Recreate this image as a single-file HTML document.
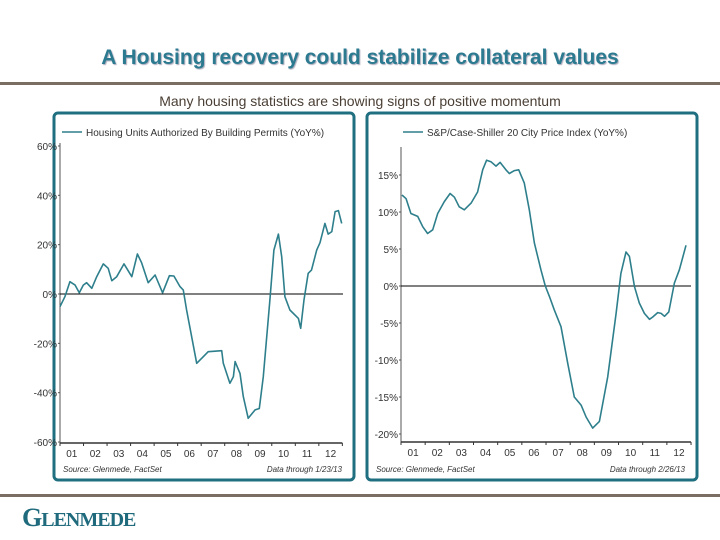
<!DOCTYPE html>
<html><head><meta charset="utf-8"><style>
body{margin:0;background:#fff;}
#root{position:relative;width:720px;height:540px;overflow:hidden;font-family:"Liberation Sans",sans-serif;}
.title{position:absolute;left:0;top:46px;width:720px;text-align:center;font-size:21px;font-weight:bold;color:#2b7a90;text-shadow:1px 1px 1px #aab;}
.sub{position:absolute;left:0;top:93px;width:720px;text-align:center;font-size:14px;color:#4a3f35;}
.rule{position:absolute;left:0;width:720px;height:3px;background:#7a6e62;}
.logo{position:absolute;left:22px;top:503px;font-family:"Liberation Serif",serif;font-weight:bold;font-size:26px;color:#1f6a7c;letter-spacing:-1px;}
.logo small{font-size:20px;}
</style></head><body>
<div id="root">
<div class="title">A Housing recovery could stabilize collateral values</div>
<div class="rule" style="top:82px"></div>
<div class="sub">Many housing statistics are showing signs of positive momentum</div>
<div class="rule" style="top:494px"></div>
<div class="logo">G<small>LENMEDE</small></div>
<svg id="chart" width="720" height="540" style="position:absolute;left:0;top:0"></svg>
</div>
<script>
const yearLabels=["01","02","03","04","05","06","07","08","09","10","11","12"];
const permitYears=[2001.0,2001.21,2001.42,2001.64,2001.82,2001.99,2002.13,2002.35,2002.56,2002.84,2003.05,2003.2,2003.41,2003.72,2004.05,2004.29,2004.47,2004.75,2005.04,2005.36,2005.65,2005.84,2006.1,2006.24,2006.38,2006.81,2007.09,2007.3,2007.87,2007.94,2008.22,2008.37,2008.44,2008.65,2008.79,2009.0,2009.29,2009.47,2009.64,2009.92,2010.09,2010.28,2010.42,2010.56,2010.77,2011.13,2011.23,2011.37,2011.55,2011.69,2011.91,2012.05,2012.26,2012.4,2012.55,2012.69,2012.83,2012.97];
const permitValues=[-5.1,-1.1,5.0,3.6,0.5,3.6,4.6,2.3,7.0,12.2,10.4,5.4,7.0,12.2,7.0,16.2,12.7,4.6,7.7,0.5,7.4,7.3,3.0,1.6,-6.5,-28.1,-25.4,-23.4,-23.0,-28.1,-36.2,-33.5,-27.4,-32.2,-41.6,-50.4,-47.0,-46.4,-33.5,-2.4,17.8,24.3,15.1,-1.1,-6.5,-9.9,-13.9,-2.4,8.4,9.7,17.8,20.8,28.6,24.3,25.3,33.4,33.8,28.6];
const permitTicks=[60,40,20,0,-20,-40,-60];
const csYears=[2001.04,2001.21,2001.41,2001.69,2001.9,2002.1,2002.31,2002.52,2002.79,2003.03,2003.21,2003.41,2003.62,2003.9,2004.17,2004.38,2004.54,2004.72,2004.93,2005.1,2005.34,2005.48,2005.69,2005.87,2006.1,2006.31,2006.52,2006.79,2006.97,2007.14,2007.34,2007.62,2007.9,2008.17,2008.45,2008.66,2008.93,2009.21,2009.55,2009.9,2010.1,2010.31,2010.45,2010.66,2010.86,2011.07,2011.28,2011.41,2011.62,2011.76,2011.9,2012.08,2012.31,2012.52,2012.79];
const csValues=[12.3,11.8,9.8,9.4,8.0,7.1,7.6,9.8,11.4,12.5,12.0,10.7,10.3,11.2,12.7,15.7,17.0,16.8,16.2,16.7,15.7,15.2,15.6,15.7,13.9,10.3,5.8,2.2,0,-1.4,-3.2,-5.5,-10.5,-15.0,-16.1,-17.7,-19.2,-18.3,-12.3,-3.7,1.7,4.6,4.0,-0.1,-2.3,-3.7,-4.5,-4.2,-3.6,-3.7,-4.1,-3.5,0.4,2.2,5.5];
const csTicks=[15,10,5,0,-5,-10,-15,-20];

const svg=document.getElementById('chart');
const NS='http://www.w3.org/2000/svg';
function mk(tag,attrs,parent){const e=document.createElementNS(NS,tag);for(const k in attrs)e.setAttribute(k,attrs[k]);(parent||svg).appendChild(e);return e;}

function panel(cfg){
  const g=mk('g',{});
  
  
  const box=mk('rect',{x:cfg.bx,y:113,width:cfg.bw,height:367,rx:4,fill:'#fff',stroke:'#1f6f80','stroke-width':3},g);
  
  
  const X=v=>cfg.x0+(v-2001)*cfg.yw;
  const Y=v=>cfg.y0-v*cfg.py;
  const ax=mk('line',{x1:cfg.x0,y1:cfg.top,x2:cfg.x0,y2:cfg.bot,stroke:'#555','stroke-width':1},g);
  
  
  const xa=mk('line',{x1:cfg.x0,y1:cfg.bot,x2:X(2013),y2:cfg.bot,stroke:'#333','stroke-width':1.5},g);
  
  
  const z=mk('line',{x1:cfg.x0,y1:Y(0),x2:cfg.zEnd,y2:Y(0),stroke:'#000','stroke-width':1},g);
  
  
  cfg.ticks.forEach(t=>{
    const tl=mk('text',{x:cfg.x0-3,y:Y(t)+4,'text-anchor':'end','font-size':10,fill:'#333','font-family':'Liberation Sans, sans-serif'},g);
    tl.textContent=t+'%';
    
    
    mk('line',{x1:cfg.x0-2,y1:Y(t),x2:cfg.x0,y2:Y(t),stroke:'#555'},g);
  });
  for(let i=0;i<=12;i++){mk('line',{x1:X(2001+i),y1:cfg.bot,x2:X(2001+i),y2:cfg.bot+3,stroke:'#333'},g);}
  yearLabels.forEach((l,i)=>{
    const t=mk('text',{x:X(2001.5+i),y:cfg.bot+14,'text-anchor':'middle','font-size':10,fill:'#333','font-family':'Liberation Sans, sans-serif'},g);
    t.textContent=l;
    
    
  });
  let d='';
  cfg.xs.forEach((x,i)=>{d+=(i?'L':'M')+X(x).toFixed(1)+' '+Y(cfg.vs[i]).toFixed(1);});
  const p=mk('path',{d:d,fill:'none',stroke:'#2e7f8c','stroke-width':1.6,'stroke-linejoin':'round'},g);
  
  
  mk('line',{x1:cfg.lx,y1:132,x2:cfg.lx+20,y2:132,stroke:'#2e7f8c','stroke-width':1.5},g);
  const lt=mk('text',{x:cfg.lx+24,y:136,'font-size':10,fill:'#333','font-family':'Liberation Sans, sans-serif'},g);
  lt.textContent=cfg.legend;
  
  
  const s=mk('text',{x:cfg.bx+9,y:472,'font-size':8,'font-style':'italic',fill:'#333','font-family':'Liberation Sans, sans-serif'},g);
  s.textContent='Source: Glenmede, FactSet';
  
  
  const dt=mk('text',{x:cfg.bx+cfg.bw-12,y:472,'font-size':8,'font-style':'italic','text-anchor':'end',fill:'#333','font-family':'Liberation Sans, sans-serif'},g);
  dt.textContent=cfg.date;
  
  
}
panel({name:'permits-chart',bx:54,bw:300,x0:60,yw:23.53,y0:294,py:2.467,top:143,bot:443,zEnd:343,ticks:permitTicks,xs:permitYears,vs:permitValues,lx:62,legend:'Housing Units Authorized By Building Permits (YoY%)',date:'Data through 1/23/13'});
panel({name:'case-shiller-chart',bx:367,bw:330,x0:401,yw:24.17,y0:286,py:7.4,top:147,bot:442,zEnd:691,ticks:csTicks,xs:csYears,vs:csValues,lx:403,legend:'S&P/Case-Shiller 20 City Price Index (YoY%)',date:'Data through 2/26/13'});
</script>
</body></html>
